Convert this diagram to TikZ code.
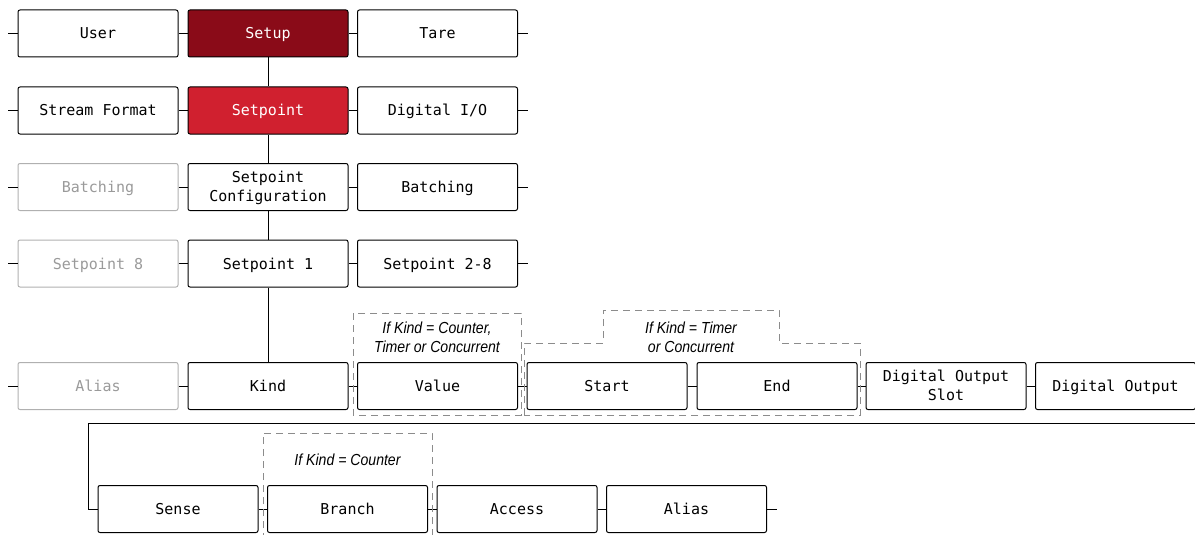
\documentclass[tikz,border=0pt]{standalone}
\usepackage{fontspec}
\setmonofont{DejaVu Sans Mono}
\newfontfamily\condfont[FakeStretch=0.88]{Liberation Sans}
\definecolor{darkred}{HTML}{8A0B18}
\definecolor{midred}{HTML}{D0202F}
\definecolor{greyline}{HTML}{B0B0B0}
\definecolor{greytext}{HTML}{9A9A9A}
\definecolor{dashgrey}{HTML}{8C8C8C}
\begin{document}
\begin{tikzpicture}[x=1pt,y=-1pt,
  menubox/.style={draw, line width=1pt, rounded corners=2pt, minimum width=160pt, minimum height=47pt, inner sep=0pt, align=center, text height=11pt, text depth=0pt, font=\ttfamily\fontsize{15}{19}\selectfont},
  twoline/.style={text height=30pt, text depth=1pt},
  ghost/.style={menubox, draw=greyline, text=greytext},
  dark/.style={menubox, fill=darkred, text=white},
  active/.style={menubox, fill=midred, text=white},
  link/.style={line width=1pt},
  cond/.style={draw=dashgrey, line width=1pt, dash pattern=on 7pt off 5pt},
  condlabel/.style={align=center, font=\condfont\itshape\fontsize{16}{19}\selectfont, inner sep=0pt}]
\useasboundingbox (0,0) rectangle (1195,535);
% row 1
\node[menubox] (user) at (98,33.5) {User};
\node[dark] (setup) at (268,33.5) {Setup};
\node[menubox] (tare) at (437.5,33.5) {Tare};
% row 2
\node[menubox] (stream) at (98,110.5) {Stream Format};
\node[active] (setpoint) at (268,110.5) {Setpoint};
\node[menubox] (dio) at (437.5,110.5) {Digital I/O};
% row 3
\node[ghost] (batchg) at (98,187) {Batching};
\node[menubox, twoline] (spconf) at (268,187) {Setpoint\\Configuration};
\node[menubox] (batch) at (437.5,187) {Batching};
% row 4
\node[ghost] (sp8) at (98,263.5) {Setpoint 8};
\node[menubox] (sp1) at (268,263.5) {Setpoint 1};
\node[menubox] (sp28) at (437.5,263.5) {Setpoint 2-8};
% row 5
\node[ghost] (aliasg) at (98,386) {Alias};
\node[menubox] (kind) at (268,386) {Kind};
\node[menubox] (value) at (437.5,386) {Value};
\node[menubox] (start) at (607,386) {Start};
\node[menubox] (end) at (777,386) {End};
\node[menubox, twoline] (dos) at (946,386) {Digital Output\\Slot};
\node[menubox] (dout) at (1115.5,386) {Digital Output};
% row 6
\node[menubox] (sense) at (178,509) {Sense};
\node[menubox] (branch) at (347.5,509) {Branch};
\node[menubox] (access) at (517,509) {Access};
\node[menubox] (alias) at (686.5,509) {Alias};

% horizontal links
\foreach \a/\b in {user/setup, setup/tare, stream/setpoint, setpoint/dio, batchg/spconf, spconf/batch, sp8/sp1, sp1/sp28, aliasg/kind, kind/value, value/start, start/end, end/dos, dos/dout, sense/branch, branch/access, access/alias}
  \draw[link] (\a.east) -- (\b.west);
% stubs
\foreach \n in {user, stream, batchg, sp8, aliasg}
  \draw[link] (\n.west) -- ++(-10,0);
\foreach \n in {tare, dio, batch, sp28, alias}
  \draw[link] (\n.east) -- ++(10,0);
% vertical links
\draw[link] (setup.south) -- (setpoint.north);
\draw[link] (setpoint.south) -- (spconf.north);
\draw[link] (spconf.south) -- (sp1.north);
\draw[link] (sp1.south) -- (kind.north);
% wrap line
\coordinate (wrapR) at (1195,423);
\draw[link] (wrapR) -- (88,423) |- (sense.west);

% conditional groups
\draw[cond] (353,313) rectangle (521,415);
\node[condlabel] (lblvalue) at (437,337.5) {If Kind = Counter,\\Timer or Concurrent};
\draw[cond] (524,415) -- (524,343) -- (603,343) -- (603,310) -- (779,310) -- (779,343) -- (860,343) -- (860,415) -- cycle;
\node[condlabel] (lbltimer) at (691,337.5) {If Kind = Timer\\or Concurrent};
\draw[cond] (263,540) -- (263,433) -- (432,433) -- (432,540);
\node[condlabel] (lblbranch) at (347.5,460) {If Kind = Counter};
\end{tikzpicture}
\end{document}
